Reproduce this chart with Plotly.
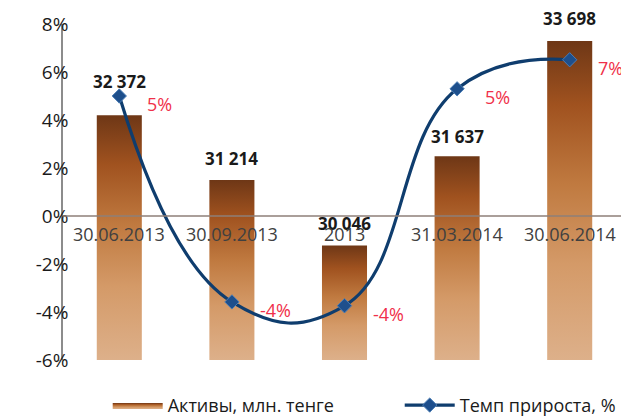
import plotly.graph_objects as go

categories = ["30.06.2013", "30.09.2013", "2013", "31.03.2014", "30.06.2014"]
assets = [32372, 31214, 30046, 31637, 33698]
growth = [5.0, -3.58, -3.74, 5.30, 6.51]
growth_labels = ["5%", "-4%", "-4%", "5%", "7%"]
y_tick_vals = [-6, -4, -2, 0, 2, 4, 6, 8]
y_tick_text = ["-6%", "-4%", "-2%", "0%", "2%", "4%", "6%", "8%"]

FONT = "'Open Sans', 'Noto Sans', sans-serif"
asset_range = [28000, 34000]
bar_half = 0.2
grad = [[0, "#DDB08A"], [0.3, "#D49A68"], [0.55, "#C07A40"], [0.8, "#A0521F"], [1, "#6E3716"]]
asset_label_shift = [34, 22, 22, 20, 22]
PAD = "\u00a0" * 13

fig = go.Figure()

for i, v in enumerate(assets):
    base = asset_range[0]
    fig.add_trace(go.Scatter(
        x=[i - bar_half, i - bar_half, i + bar_half, i + bar_half, i - bar_half],
        y=[base, v, v, base, base],
        mode="lines", fill="toself",
        fillgradient=dict(type="vertical", colorscale=grad),
        line=dict(width=0),
        name="Активы, млн. тенге" + PAD,
        legendgroup="assets",
        showlegend=(i == 0),
        hoverinfo="skip",
        xaxis="x", yaxis="y",
    ))

fig.add_trace(go.Scatter(
    x=list(range(len(categories))), y=growth,
    mode="lines+markers",
    line=dict(color="#0F3D6E", width=3.2, shape="spline", smoothing=1.3),
    marker=dict(symbol="diamond", size=11, color="#1E4F8C",
                line=dict(color="#4A7DB5", width=1)),
    name="Темп прироста, %",
    xaxis="x", yaxis="y2",
))

annotations = []
for i, v in enumerate(assets):
    annotations.append(dict(
        x=i, y=v, xref="x", yref="y", yshift=asset_label_shift[i],
        text="<b>" + f"{v:,}".replace(",", " ") + "</b>",
        showarrow=False, font=dict(family=FONT, size=17, color="#1A1A1A"),
    ))
for i, v in enumerate(growth):
    annotations.append(dict(
        x=i, y=v, xref="x", yref="y2", xanchor="left", xshift=26, yshift=-8,
        text=growth_labels[i], showarrow=False,
        font=dict(family=FONT, size=18, color="#F0304A"),
    ))
for i, c in enumerate(categories):
    annotations.append(dict(
        x=i, y=0, xref="x", yref="y2", yshift=-18,
        text=c, showarrow=False,
        font=dict(family=FONT, size=18, color="#404040"),
    ))

fig.add_shape(type="line", xref="paper", x0=0, x1=1, yref="y2", y0=0, y1=0,
              line=dict(color="#8E7F78", width=1.5), layer="above")

fig.update_layout(
    width=621, height=411,
    margin=dict(l=55, r=3, t=16, b=59, autoexpand=False),
    paper_bgcolor="white", plot_bgcolor="white",
    font=dict(family=FONT, size=16, color="#1A1A1A"),
    showlegend=True,
    legend=dict(orientation="h", x=0.535, xanchor="center", y=-0.135, yanchor="middle",
                font=dict(family=FONT, size=18, color="#1A1A1A"),
                itemwidth=50, tracegroupgap=0),
    annotations=annotations,
    xaxis=dict(
        range=[-0.5, len(categories) - 0.5],
        showticklabels=False, showline=False, showgrid=False, zeroline=False, ticks="",
    ),
    yaxis=dict(range=asset_range, visible=False, showgrid=False, zeroline=False),
    yaxis2=dict(
        range=[-6, 8], tickvals=y_tick_vals, ticktext=y_tick_text,
        overlaying="y", side="left",
        showgrid=False, zeroline=False,
        showline=True, linecolor="#8C8C8C", linewidth=1.5,
        ticks="outside", ticklen=5, tickcolor="#C8C8C8",
        ticklabelstandoff=-16,
        tickfont=dict(family=FONT, size=19, color="#1A1A1A"),
    ),
)

fig.write_html("out.html")
